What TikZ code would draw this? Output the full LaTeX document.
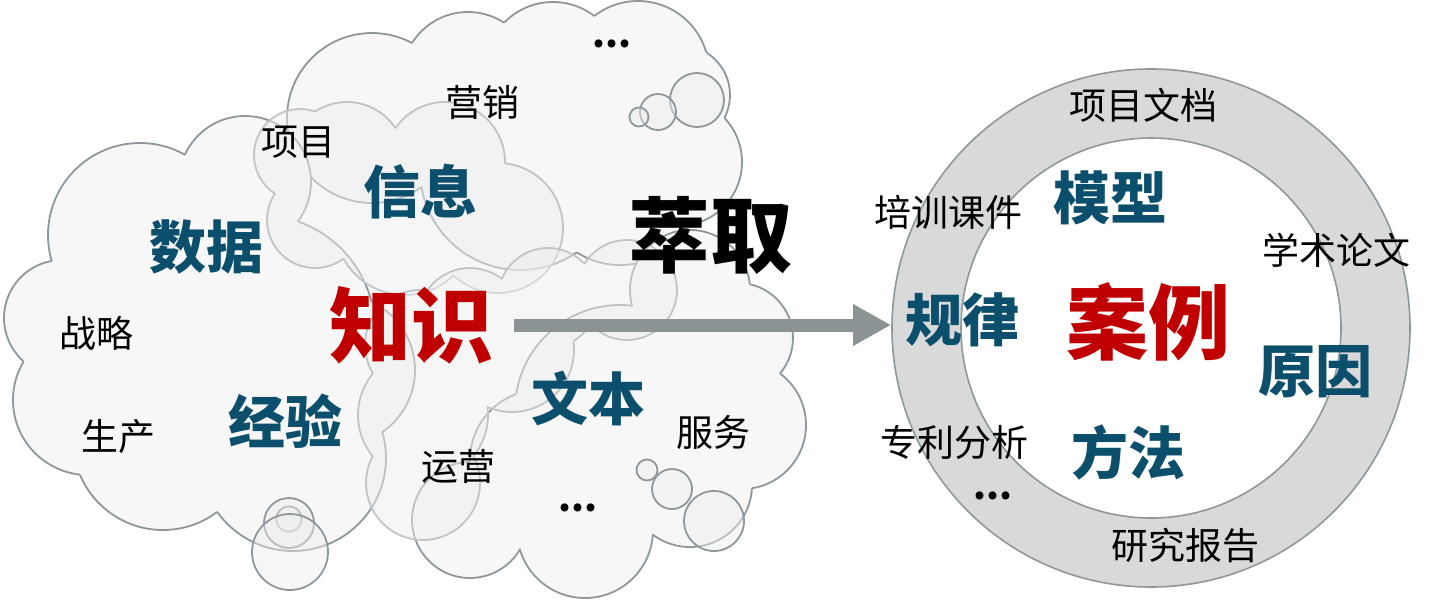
\documentclass[tikz,border=0pt]{standalone}
\usepackage{fontspec}
\usepackage{tikz}
\usetikzlibrary{arrows.meta}
\newfontfamily\cjk{Noto Sans CJK SC}
\definecolor{ink}{HTML}{0B4F6C}
\definecolor{crimson}{HTML}{C00000}
\definecolor{puff}{HTML}{F7F7F7}
\definecolor{puffln}{HTML}{8E979B}
\definecolor{haze}{HTML}{EEEEEE}
\definecolor{hazeln}{HTML}{BFC5C8}
\definecolor{band}{HTML}{D9D9D9}
\definecolor{shaft}{HTML}{8C9395}
\tikzset{fig/.style={line join=round,>=Stealth},
  word/.style={inner sep=0pt,font=\cjk\fontsize{18.5}{20}\selectfont},
  etc/.style={inner sep=0pt,font=\cjk\bfseries\fontsize{18.5}{20}\selectfont},
  key/.style={inner sep=0pt,text=ink,font=\cjk\bfseries\fontsize{28.5}{30}\selectfont},
  core/.style={inner sep=0pt,font=\cjk\bfseries\fontsize{41}{44}\selectfont},
  bubble/.style={draw=puffln,line width=0.9pt,fill=haze,fill opacity=0.45}}
% cloud = union of puffs (x/y/r in pixels); outline only where no other puff covers it
\newcommand\puffcloud[3]{%
  \fill[#2] \foreach \x/\y/\r in #1 {(\x,\y) circle (\r)};
  \foreach \x/\y/\r [count=\i] in #1 {
    \begin{scope}
      \foreach \u/\v/\s [count=\j] in #1 {
        \ifnum\i=\j\else
          \clip (-50,-50) -- (-50,700) -- (1500,700) -- (1500,-50) -- cycle (\u,\v) circle (\s);
        \fi}
      \draw[#3] (\x,\y) circle (\r);
    \end{scope}}}
\def\topcloud{372/118/85,468/78/66,553/70/68,638/72/71,680/95/50,678/162/64,520/170/100,620/185/80}
\def\leftcloud{140/235/92,62/318/58,88/400/75,163/440/90,293/458/93,245/182/66,260/330/115,340/370/75,140/340/70}
\def\rightcloud{690/290/60,738/338/55,742/425/64,690/485/62,585/530/68,470/520/58,620/410/105,540/460/70}
\def\infocloud{300/155/46,347/160/58,445/162/60,498/228/65,315/220/48,405/225/70}
\def\midcloud{470/320/52,548/298/50,627/290/50,512/350/62,423/415/65,423/483/57,420/345/55}

\begin{document}
\begin{tikzpicture}[fig,x=0.5pt,y=-0.5pt]
  \useasboundingbox (0,0) rectangle (1436,601);
  % clouds, back to front
  \puffcloud{\topcloud}{puff}{puffln,line width=0.9pt}
  \puffcloud{\leftcloud}{puff}{puffln,line width=0.9pt}
  \puffcloud{\rightcloud}{puff}{puffln,line width=0.9pt}
  \puffcloud{\infocloud}{haze,fill opacity=0.5}{hazeln,line width=0.9pt}
  \puffcloud{\midcloud}{haze,fill opacity=0.5}{hazeln,line width=0.9pt}
  \foreach \x/\y/\r in {697/100/27,658/112/18,639/117/9.5,647/470/10.5,672/489/20,714/521/30,289/519/12.7,289/523/25,290/552/38}
    \path[bubble] (\x,\y) circle (\r);
  % words in the cloud
  \node[word] (xiangmu) at (298,142) {项目};
  \node[word] (yingxiao) at (482,102) {营销};
  \node[etc] (etc1) at (612,44) {...};
  \node[key] (xinxi) at (420,192) {信息};
  \node[key] (shuju) at (206,247) {数据};
  \node[core,text=crimson] (zhishi) at (411,325) {知识};
  \node[word] (zhanlue) at (96,333) {战略};
  \node[word] (shengchan) at (118,437) {生产};
  \node[key] (jingyan) at (285,421) {经验};
  \node[word] (yunying) at (458,467) {运营};
  \node[key] (wenben) at (588,398) {文本};
  \node[word] (fuwu) at (713,432) {服务};
  \node[etc] (etc2) at (578,508) {...};
  \node[core] (cuiqu) at (710,235) {萃取};
  % ring of sources
  \node[circle,draw=puffln,fill=band,line width=0.8pt,minimum size=259pt,inner sep=0pt] (ring) at (1151,328) {};
  \node[circle,draw=puffln,fill=white,line width=0.8pt,minimum size=190pt,inner sep=0pt] (hub) at (ring.center) {};
  \node[word] (xmwd) at (1143,105) {项目文档};
  \node[key] (moxing) at (1110,198) {模型};
  \node[word] (peixun) at (948,212) {培训课件};
  \node[word] (xueshu) at (1336,250) {学术论文};
  \node[key] (guilv) at (962,320) {规律};
  \node[core,text=crimson] (anli) at (1148,322) {案例};
  \node[key] (yuanyin) at (1315,372) {原因};
  \node[word] (zhuanli) at (954,442) {专利分析};
  \node[key] (fangfa) at (1128,452) {方法};
  \node[etc] (etc3) at (993,496) {...};
  \node[word] (yanjiu) at (1185,545) {研究报告};
  % extraction arrow
  \draw[shaft,line width=6.5pt,-{Triangle[length=19pt,width=19.5pt]}] ([xshift=10.5pt]zhishi.east) -- (zhishi.east -| ring.west);
\end{tikzpicture}
\end{document}
